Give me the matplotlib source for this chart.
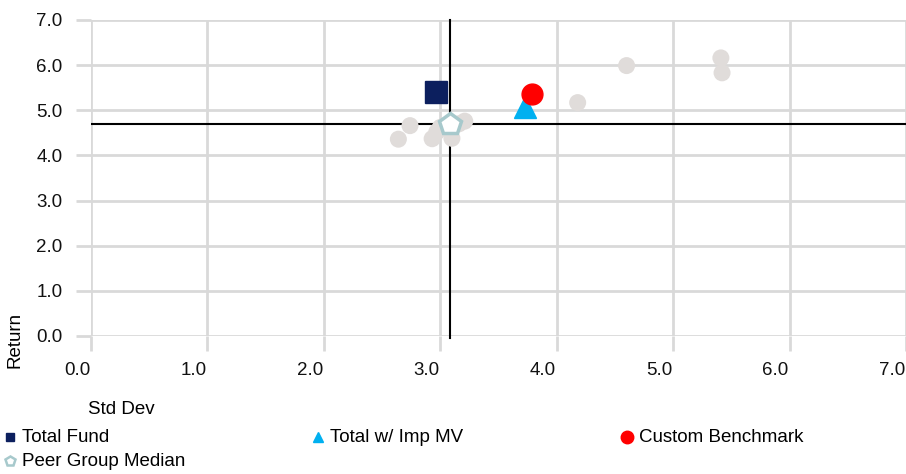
import matplotlib.pyplot as plt
import matplotlib.transforms as mtransforms
from matplotlib.lines import Line2D

plt.rcParams['font.family'] = ['Liberation Sans', 'DejaVu Sans']

# peer universe (std dev, return)
peer_sd = [2.64, 2.74, 2.93, 2.97, 3.00, 3.10, 3.16, 3.21, 4.18, 4.60, 5.41, 5.42]
peer_ret = [4.36, 4.66, 4.37, 4.52, 4.62, 4.38, 4.70, 4.76, 5.17, 5.99, 6.16, 5.83]

series_names = ['Total Fund', 'Total w/ Imp MV', 'Custom Benchmark', 'Peer Group Median']
series_sd = [2.96, 3.73, 3.79, 3.08]
series_ret = [5.41, 5.08, 5.37, 4.70]

median_sd = 3.08
median_ret = 4.70

ticks = [0, 1, 2, 3, 4, 5, 6, 7]

fig = plt.figure(figsize=(9.06, 4.74), dpi=100)
W, H = 906, 474
ax = fig.add_axes([91 / W, (H - 336) / H, (906 - 91) / W, (336 - 20) / H])

grid_c = '#d9d9d9'
fs = 13.5
ax.set_xlim(0, 7)
ax.set_ylim(0, 7)
ax.set_xticks(ticks)
ax.set_yticks(ticks)
ax.set_xticklabels([f'{t:.1f}' for t in ticks])
ax.set_yticklabels([f'{t:.1f}' for t in ticks])
ax.grid(True, color=grid_c, lw=2)
ax.set_axisbelow(True)
for s in ax.spines.values():
    s.set_visible(False)
ax.tick_params(axis='both', direction='out', length=10.5, width=2, color=grid_c,
               labelsize=fs, labelcolor='#111111')
ax.tick_params(axis='y', pad=10)
ax.tick_params(axis='x', pad=8)
shift = mtransforms.ScaledTranslation(-14 / 100, 0, fig.dpi_scale_trans)
for lab in ax.get_xticklabels():
    lab.set_transform(lab.get_transform() + shift)

# crosshair through peer median
ax.axvline(median_sd, ymin=-0.006, ymax=1.0, color='black', lw=1.5, clip_on=False, zorder=2)
ax.axhline(median_ret, color='black', lw=1.5, zorder=2)

ax.scatter(peer_sd, peer_ret, s=150, color='#e0dcda', edgecolors='none', zorder=3)

styles = [
    dict(marker='s', color='#0c1f5e', ms=16, mec='#0c1f5e'),
    dict(marker='^', color='#00b0f0', ms=16, mec='#00b0f0'),
    dict(marker='o', color='#ff0000', ms=15, mec='#ff0000'),
    dict(marker='p', color='white', ms=16, mec='#a7c9cc', mew=2.5),
]
order = [2, 0, 1, 3]
for i in order:
    ax.plot(series_sd[i], series_ret[i], linestyle='none', zorder=4 + i, **styles[i])

fig.text(15 / W, 1 - 340 / H, 'Return', rotation=90, ha='center', va='center', fontsize=fs)
fig.text(121 / W, 1 - 410 / H, 'Std Dev', ha='center', va='center', fontsize=fs)

# legend
leg_pos = [(10, 437), (318, 437), (627, 437), (10, 461)]
leg_ms = [6, 6.5, 9, 7]
for (px, py), name, st, ms in zip(leg_pos, series_names, styles, leg_ms):
    st = dict(st)
    st['ms'] = ms
    if st['marker'] == 'p':
        st['mew'] = 1.8
    fig.add_artist(Line2D([px / W], [1 - py / H], linestyle='none', transform=fig.transFigure, **st))
    fig.text((px + 12) / W, 1 - py / H, name, ha='left', va='center', fontsize=fs)

fig.savefig('out.png', dpi=100)
